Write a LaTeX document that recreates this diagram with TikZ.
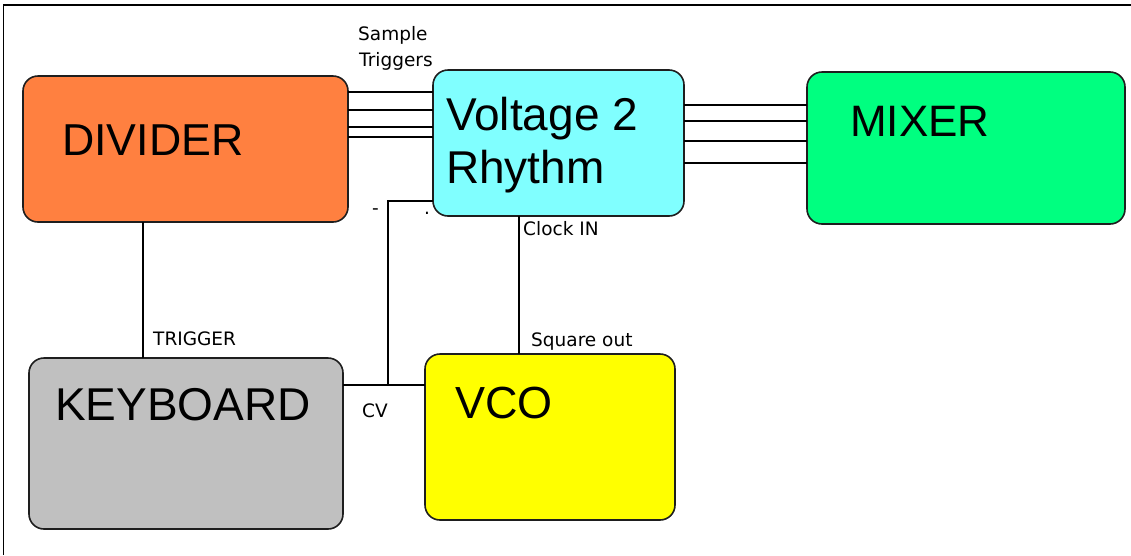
\documentclass[tikz,border=0pt]{standalone}
\usepackage{fontspec}
\setmainfont{Liberation Sans}
\newfontfamily\smallfont{DejaVu Sans}
\definecolor{divorange}{RGB}{255,128,64}
\definecolor{vcyan}{RGB}{128,255,255}
\definecolor{mixgreen}{RGB}{0,255,128}
\definecolor{kbgray}{RGB}{192,192,192}
\definecolor{vcoyellow}{RGB}{255,255,0}
\definecolor{edge}{RGB}{30,30,30}
\tikzset{
  box/.style={draw=edge, line width=1.6pt, rounded corners=15pt, anchor=north west, inner sep=0pt, outer sep=0pt},
  bigtext/.style={anchor=base west, inner sep=0pt, font=\fontsize{45}{53}\selectfont},
  smalltext/.style={anchor=base west, inner sep=0pt, font=\smallfont\fontsize{18.5}{22}\selectfont},
  wire/.style={draw=black, line width=1.3pt},
}
\begin{document}
\begin{tikzpicture}[x=1pt, y=-1pt]
\useasboundingbox (0,0) rectangle (1131,555);
\fill[white] (0,0) rectangle (1131,555);
% frame
\draw[line width=2pt] (3,5) -- (1131,5);
\draw[line width=1pt] (3,5) -- (3,555);

% boxes
\node[box, fill=divorange, minimum width=325pt, minimum height=146pt] (divider) at (23,76) {};
\node[box, fill=vcyan, minimum width=251pt, minimum height=146pt] (v2r) at (433,70) {};
\node[box, fill=mixgreen, minimum width=318pt, minimum height=152pt] (mixer) at (807,72) {};
\node[box, fill=kbgray, minimum width=314pt, minimum height=171pt] (keyboard) at (29,358) {};
\node[box, fill=vcoyellow, minimum width=250pt, minimum height=166pt] (vco) at (425,354) {};

% box texts
\node[bigtext, font=\fontsize{44.7}{53}\selectfont] (tdiv) at (62,155) {DIVIDER};
\node[bigtext, font=\fontsize{46}{53}\selectfont] (tv1) at (446,130) {Voltage 2};
\node[bigtext, font=\fontsize{46}{53}\selectfont] (tv2) at (446,183) {Rhythm};
\node[bigtext, font=\fontsize{44}{53}\selectfont] (tmix) at (850,136) {MIXER};
\node[bigtext, font=\fontsize{46}{53}\selectfont] (tkb) at (55,420) {KEYBOARD};
\node[bigtext, font=\fontsize{45}{53}\selectfont] (tvco) at (455,418) {VCO};

% divider -> voltage 2 rhythm (four sample trigger lines)
\coordinate (d1) at ([yshift=-16pt]divider.north east);
\coordinate (d2) at ([yshift=-34pt]divider.north east);
\coordinate (d3) at ([yshift=-51pt]divider.north east);
\coordinate (d4) at ([yshift=-61pt]divider.north east);
\foreach \c in {d1,d2,d3,d4} \draw[wire] (\c) -- (\c -| v2r.west);

% voltage 2 rhythm -> mixer (four lines)
\coordinate (m1) at ([yshift=-35pt]v2r.north east);
\coordinate (m2) at ([yshift=-51pt]v2r.north east);
\coordinate (m3) at ([yshift=-71pt]v2r.north east);
\coordinate (m4) at ([yshift=-93pt]v2r.north east);
\foreach \c in {m1,m2,m3,m4} \draw[wire] (\c) -- (\c -| mixer.west);

% trigger: divider -> keyboard
\coordinate (t1) at ([xshift=120pt]divider.south west);
\draw[wire] (t1) -- (t1 |- keyboard.north);

% clock: vco -> voltage 2 rhythm
\coordinate (c1) at ([xshift=86pt]v2r.south west);
\draw[wire] (c1) -- (c1 |- vco.north);

% CV: keyboard -> vco and up to voltage 2 rhythm
\coordinate (k1) at ([yshift=-27pt]keyboard.north east);
\draw[wire] (k1) -- (k1 -| vco.west);
\coordinate (k2) at ([xshift=45pt]k1);
\coordinate (v2) at ([yshift=15pt]v2r.south west);
\draw[wire] (k2) |- (v2);

% labels
\node[smalltext] (lsample) at (358,40) {Sample};
\node[smalltext] (ltrig) at (359,66) {Triggers};
\node[smalltext] (lclock) at (523,235) {Clock IN};
\node[smalltext] (lsquare) at (531,346) {Square out};
\node[smalltext] (ltrigger) at (153,345) {TRIGGER};
\node[smalltext] (lcv) at (362,417) {CV};
\node[smalltext] (lminus) at (372,214) {-};
\node[smalltext] (ldot) at (424,214) {.};
\end{tikzpicture}
\end{document}
